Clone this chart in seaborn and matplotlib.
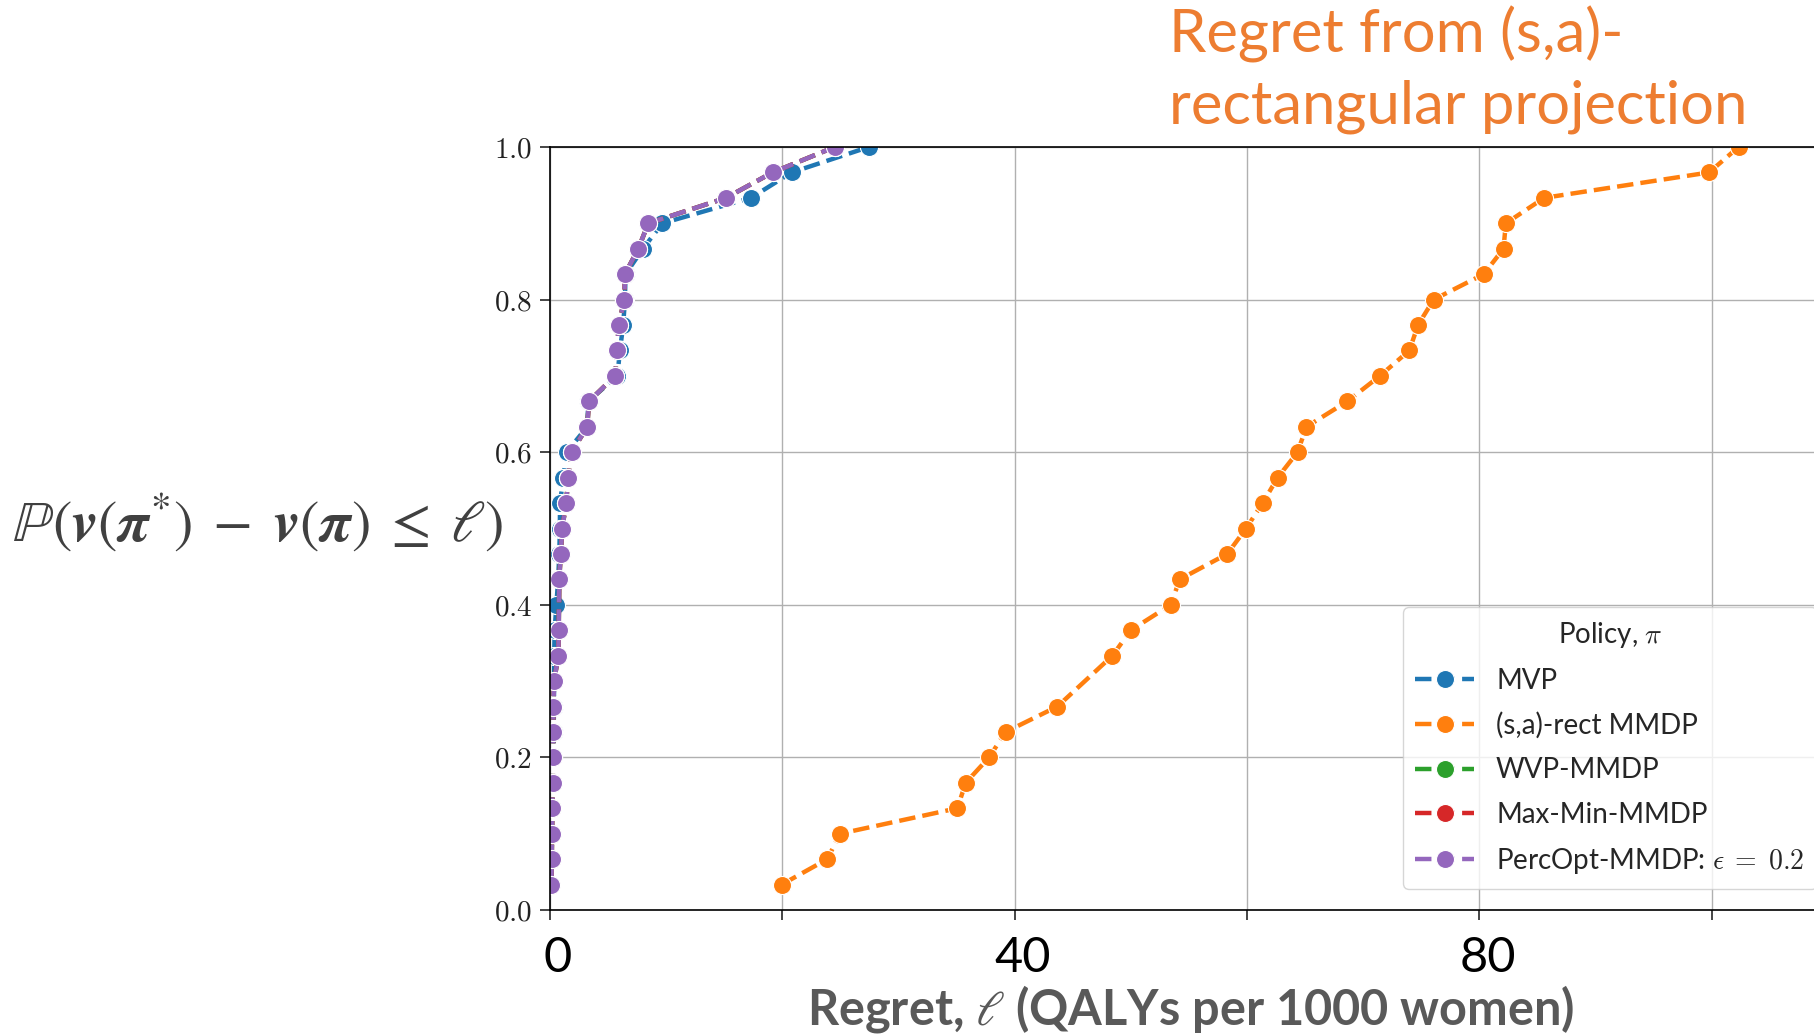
import numpy as np
import pandas as pd
import matplotlib
matplotlib.use("Agg")
import matplotlib.pyplot as plt
import matplotlib.transforms as mtransforms
import seaborn as sns
from matplotlib.mathtext import MathTextParser
from matplotlib.font_manager import FontProperties

# ---------------- data ----------------
N_SAMPLES = 30

mvp_rank = list(range(1, 31))
mvp_regret = [0.05, 0.08, 0.10, 0.12, 0.15, 0.30, 0.32, 0.34, 0.35, 0.36,
              0.40, 0.55, 0.70, 0.80, 0.85, 0.86, 1.15, 1.43, 3.20, 3.30,
              5.80, 6.02, 6.30, 6.45, 6.50, 8.00, 9.67, 17.30, 20.80, 27.45]

rect_rank = [1, 2, 3, 4, 5, 6, 7, 8, 10, 11, 12, 13, 14, 15, 16, 17, 18, 19, 20,
             21, 22, 23, 24, 25, 26, 27, 28, 29, 30]
rect_regret = [19.94, 23.87, 24.96, 35.06, 35.78, 37.79, 39.22, 43.67, 48.41,
               49.99, 53.43, 54.20, 58.29, 59.91, 61.34, 62.63, 64.34, 65.11,
               68.63, 71.43, 73.97, 74.71, 76.06, 80.37, 82.07, 82.27, 85.57,
               99.77, 102.30]

wvp_rank = [1, 2, 3, 4, 5, 6, 7, 8, 9, 10, 11, 13, 14, 15, 16, 17, 18, 19, 20,
            21, 22, 23, 24, 25, 26, 27, 28, 29, 30]
wvp_regret = [0.12, 0.15, 0.18, 0.20, 0.25, 0.27, 0.28, 0.30, 0.35, 0.72, 0.75,
              0.80, 0.92, 1.06, 1.38, 1.58, 1.86, 3.21, 3.35, 5.60, 5.80, 5.90,
              6.40, 6.45, 7.60, 8.46, 15.15, 19.16, 24.50]

maxmin_rank = [1, 2, 3, 4, 5, 6, 7, 8, 9, 10, 11, 13, 14, 15, 16, 17, 18, 19, 20,
               21, 22, 23, 24, 25, 26, 27, 28, 29, 30]
maxmin_regret = [0.12, 0.15, 0.18, 0.20, 0.25, 0.27, 0.28, 0.30, 0.35, 0.72, 0.75,
                 0.80, 0.92, 1.06, 1.38, 1.58, 1.86, 3.21, 3.35, 5.60, 5.80, 5.90,
                 6.40, 6.45, 7.60, 8.46, 15.15, 19.16, 24.50]

percopt_rank = [1, 2, 3, 4, 5, 6, 7, 8, 9, 10, 11, 13, 14, 15, 16, 17, 18, 19, 20,
                21, 22, 23, 24, 25, 26, 27, 28, 29, 30]
percopt_regret = [0.12, 0.15, 0.18, 0.20, 0.25, 0.27, 0.28, 0.30, 0.35, 0.72, 0.75,
                  0.80, 0.92, 1.06, 1.38, 1.58, 1.86, 3.21, 3.35, 5.60, 5.80, 5.90,
                  6.40, 6.45, 7.60, 8.46, 15.15, 19.16, 24.50]

series_labels = ["MVP", "(s,a)-rect MMDP", "WVP-MMDP", "Max-Min-MMDP",
                 r"PercOpt-MMDP: $\epsilon\;=\;0.2$"]
series_colors = ["#1f77b4", "#ff7f0e", "#2ca02c", "#d62728", "#9467bd"]

x_ticks = [0, 20, 40, 60, 80, 100]
x_tick_labels = ["0", "", "40", "", "80", ""]
y_ticks = [0.0, 0.2, 0.4, 0.6, 0.8, 1.0]
y_tick_labels = [r"$0.0$", r"$0.2$", r"$0.4$", r"$0.6$", r"$0.8$", r"$1.0$"]

title_text = "Regret from (s,a)-\nrectangular projection"
xlabel_text = r"Regret, $\ell$ (QALYs per 1000 women)"

# ---------------- style ----------------
sns.set_theme(style="ticks", rc={
    "axes.grid": True,
    "grid.color": "#b0b0b0",
    "grid.linewidth": 1.0,
    "axes.edgecolor": "black",
    "axes.linewidth": 1.2,
})
plt.rcParams["font.family"] = ["Lato", "DejaVu Sans"]
plt.rcParams["mathtext.fontset"] = "cm"

W, H = 1815, 1036
fig = plt.figure(figsize=(W / 100, H / 100), dpi=100)
ax = fig.add_axes([550 / W, 1 - 910 / H, 1278 / W, 763 / H])

all_sets = [(mvp_regret, mvp_rank), (rect_regret, rect_rank),
            (wvp_regret, wvp_rank), (maxmin_regret, maxmin_rank),
            (percopt_regret, percopt_rank)]
for (xs, rk), lab, col in zip(all_sets, series_labels, series_colors):
    df = pd.DataFrame({"regret": xs, "prob": np.array(rk) / N_SAMPLES})
    sns.lineplot(data=df, x="regret", y="prob", ax=ax, sort=False,
                 estimator=None, color=col, label=lab, linestyle="--",
                 linewidth=3.2, marker="o", markersize=13,
                 markeredgecolor="white", markeredgewidth=0.8)

ax.set_xlim(0, 110)
ax.set_ylim(0, 1.0)
ax.set_xticks(x_ticks)
ax.set_xticklabels(x_tick_labels)
ax.set_yticks(y_ticks)
ax.set_yticklabels(y_tick_labels)
ax.tick_params(axis="y", length=7, width=1.2, labelsize=21, labelcolor="#222222", pad=6)
ax.tick_params(axis="x", length=7, width=1.2, labelsize=35, labelcolor="black", pad=12)
shift = mtransforms.ScaledTranslation(8 / 100, 0, fig.dpi_scale_trans)
for lbl in ax.get_xticklabels():
    lbl.set_transform(lbl.get_transform() + shift)
ax.set_xlabel("")
ax.set_ylabel("")
for s in ["left", "bottom", "top"]:
    ax.spines[s].set_visible(True)
    ax.spines[s].set_color("black")
ax.spines["right"].set_visible(False)

leg = ax.legend(title=r"Policy, $\pi$", loc="upper left",
                bbox_to_anchor=((1403 - 550) / 1278, (910 - 607) / 763),
                borderaxespad=0, fontsize=20, title_fontsize=20,
                labelspacing=0.66, handlelength=2.1, frameon=True,
                fancybox=True, framealpha=0.8, edgecolor="#cccccc",
                borderpad=0.45)

# ---------------- annotations ----------------
ylab_candidates = [
    r"$\mathbb{P}(\boldsymbol{v}(\boldsymbol{\pi}^{*})\;-\;\boldsymbol{v}(\boldsymbol{\pi})\;\leq\;\ell)$",
    r"$\mathbb{P}(\mathbf{v}(\pi^{*})\;-\;\mathbf{v}(\pi)\;\leq\;\ell)$",
]
ylab = ylab_candidates[-1]
parser = MathTextParser("path")
for cand in ylab_candidates:
    try:
        parser.parse(cand, dpi=100, prop=FontProperties(math_fontfamily="stix"))
        ylab = cand
        break
    except Exception:
        continue

fig.text(258 / W, 1 - 523 / H, ylab, fontsize=42, color="#404040",
         ha="center", va="center", math_fontfamily="stix")

fig.text(1191 / W, 1 - 1009 / H, xlabel_text, fontsize=35, fontweight="bold",
         color="#595959", ha="center", va="center", family="Lato",
         math_fontfamily="stix")

fig.text(1169 / W, 1 - 6 / H, title_text, fontsize=43, color="#ED7D31",
         ha="left", va="top", linespacing=1.38, family="Lato")

fig.savefig("out.png", dpi=100)
